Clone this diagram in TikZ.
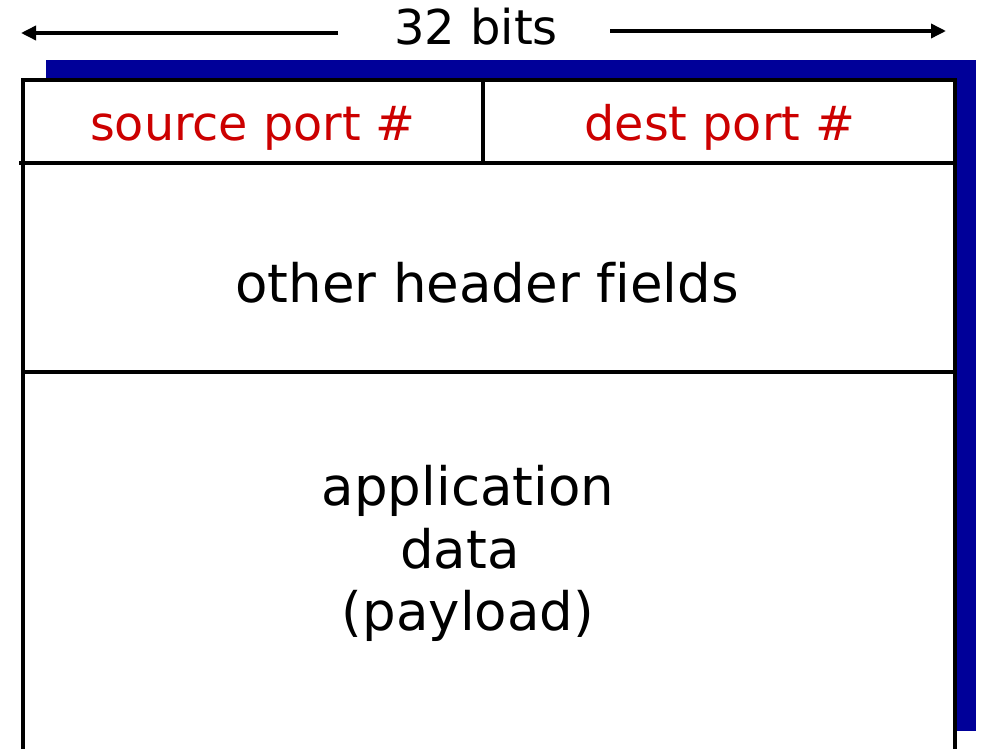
\documentclass[tikz,border=0pt]{standalone}
\usepackage{fontspec}
\setmainfont[Ligatures=NoCommon]{DejaVu Sans}
\usetikzlibrary{arrows.meta}
\definecolor{shadowblue}{RGB}{0,0,153}
\definecolor{portred}{RGB}{204,0,0}
\tikzset{
  frameline/.style={line width=3.5pt, black},
  dimarrow/.style={line width=3.5pt, -{Triangle[length=15pt,width=14pt]}},
  portlabel/.style={anchor=base, inner sep=0pt, text=portred, font=\fontsize{47.6}{56}\selectfont},
  biglabel/.style={anchor=base, inner sep=0pt, font=\fontsize{53}{63}\selectfont},
}
\begin{document}
\begin{tikzpicture}[x=1pt,y=-1pt]
\useasboundingbox (0,0) rectangle (982,749);
% shadow
\fill[shadowblue] (46,60) rectangle (976,731);
% white box
\fill[white] (23,80) rectangle (955,760);
% frame (open at the bottom)
\draw[frameline] (23,760) -- (23,80) -- (955,80) -- (955,760);
\draw[frameline] (19,163) -- (955,163);
\draw[frameline] (483,80) -- (483,163);
\draw[frameline] (23,372) -- (955,372);
% width label and arrows
\node[biglabel, font=\fontsize{48}{56}\selectfont] (bits) at (476,45) {32 bits};
\coordinate (lend) at (21,33);
\coordinate (lstart) at (338,33);
\coordinate (rstart) at (610,31);
\coordinate (rend) at (946,31);
\draw[dimarrow] (lstart) -- (lend);
\draw[dimarrow] (rstart) -- (rend);
% field labels
\node[portlabel] (src) at (253,141) {source port \#};
\node[portlabel] (dst) at (720,141) {dest port \#};
\node[biglabel] (other) at (487,302) {other header fields};
\node[biglabel] (app1) at (468,505) {application};
\node[biglabel] (app2) at (460,568) {data};
\node[biglabel] (app3) at (468,630) {(payload)};
\end{tikzpicture}
\end{document}
